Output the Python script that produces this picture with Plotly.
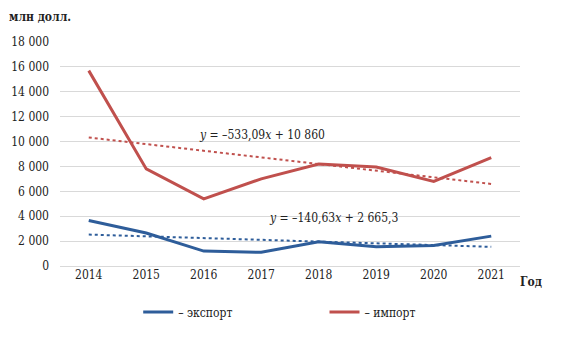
import numpy as np
import plotly.graph_objects as go

years = ["2014", "2015", "2016", "2017", "2018", "2019", "2020", "2021"]
export_vals = [3650, 2650, 1200, 1100, 1950, 1550, 1650, 2400]
import_vals = [15700, 7800, 5400, 7000, 8200, 7950, 6800, 8700]
# trend coefficients as printed on the chart
import_trend = (-533.09, 10860)
export_trend = (-140.63, 2665.3)
y_ticks = [0, 2000, 4000, 6000, 8000, 10000, 12000, 14000, 16000, 18000]
y_tick_text = ["0", "2 000", "4 000", "6 000", "8 000", "10 000", "12 000", "14 000", "16 000", "18 000"]

BLUE = "#2e5d9a"
RED = "#c0504d"
FONT = "DejaVu Serif Condensed"

idx = np.arange(1, len(years) + 1)
imp_tr = import_trend[0] * idx + import_trend[1]
exp_tr = export_trend[0] * idx + export_trend[1]

fig = go.Figure()
fig.add_trace(go.Scatter(x=years, y=export_vals, mode="lines", name="– экспорт",
                         line=dict(color=BLUE, width=3), legend="legend"))
fig.add_trace(go.Scatter(x=years, y=import_vals, mode="lines", name="– импорт",
                         line=dict(color=RED, width=3), legend="legend2"))
fig.add_trace(go.Scatter(x=years, y=imp_tr, mode="lines", showlegend=False,
                         line=dict(color=RED, width=2, dash="dot")))
fig.add_trace(go.Scatter(x=years, y=exp_tr, mode="lines", showlegend=False,
                         line=dict(color=BLUE, width=2, dash="dot")))

leg_common = dict(orientation="h", y=-0.205, yanchor="middle", xanchor="left",
                  itemwidth=30, font=dict(size=12, family=FONT, color="#222"),
                  bgcolor="rgba(0,0,0,0)")

fig.update_layout(
    width=573, height=344,
    margin=dict(l=60, r=53, t=42, b=78),
    paper_bgcolor="white", plot_bgcolor="white",
    font=dict(family=FONT, size=12, color="#222"),
    xaxis=dict(type="category", range=[-0.5, 7.5], showgrid=False, showline=False,
               ticks="", tickfont=dict(size=12, family=FONT), fixedrange=True),
    yaxis=dict(range=[0, 18000], tickvals=y_ticks, ticktext=y_tick_text,
               showgrid=True, gridcolor="#d9d9d9", gridwidth=1,
               zeroline=True, zerolinecolor="#d9d9d9", zerolinewidth=1,
               showline=False, ticks="", ticklabelstandoff=10,
               tickfont=dict(size=12, family=FONT)),
    legend=dict(x=0.17, **leg_common),
    legend2=dict(x=0.575, **leg_common),
    showlegend=True,
)

fig.add_annotation(xref="paper", yref="paper", x=-0.115, y=1.11, xanchor="left",
                   yanchor="middle", text="<b>млн долл.</b>", showarrow=False,
                   font=dict(size=12, family=FONT))
fig.add_annotation(xref="paper", yref="paper", x=0.995, y=-0.072, xanchor="left",
                   yanchor="middle", text="<b>Год</b>", showarrow=False,
                   font=dict(size=12, family=FONT))
fig.add_annotation(xref="paper", yref="paper", x=0.297, y=0.585, xanchor="left",
                   yanchor="middle", text="<i>y</i> = –533,09<i>x</i> + 10 860",
                   showarrow=False, font=dict(size=12, family=FONT))
fig.add_annotation(xref="paper", yref="paper", x=0.45, y=0.215, xanchor="left",
                   yanchor="middle", text="<i>y</i> = –140,63<i>x</i> + 2 665,3",
                   showarrow=False, font=dict(size=12, family=FONT))

fig.write_html("out.html")
